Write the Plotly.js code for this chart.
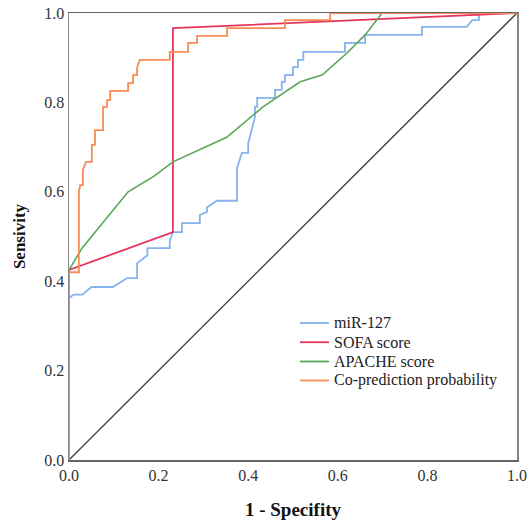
<!DOCTYPE html>
<html>
<head>
<meta charset="utf-8">
<script src="https://cdn.plot.ly/plotly-3.0.1.min.js"></script>
<style>html,body{margin:0;padding:0;background:#fff}#chart{width:528px;height:520px}</style>
</head>
<body>
<div id="chart"></div>
<script>
var seriesNames = ["miR-127", "SOFA score", "APACHE score", "Co-prediction probability"];

var mirX = [0, 0, 0.01, 0.03, 0.05, 0.098, 0.13, 0.152, 0.152, 0.175, 0.175, 0.225, 0.225, 0.232, 0.252, 0.252, 0.292, 0.292, 0.308, 0.308, 0.33, 0.375, 0.375, 0.386, 0.40, 0.40, 0.415, 0.415, 0.42, 0.42, 0.46, 0.46, 0.475, 0.475, 0.482, 0.482, 0.50, 0.50, 0.511, 0.511, 0.523, 0.523, 0.616, 0.616, 0.661, 0.661, 0.788, 0.788, 0.888, 0.90, 0.915, 0.915, 1];
var mirY = [0, 0.362, 0.37, 0.37, 0.387, 0.387, 0.407, 0.407, 0.44, 0.458, 0.474, 0.474, 0.49, 0.51, 0.51, 0.53, 0.53, 0.548, 0.555, 0.565, 0.58, 0.58, 0.653, 0.687, 0.687, 0.709, 0.767, 0.79, 0.79, 0.81, 0.81, 0.828, 0.828, 0.846, 0.846, 0.861, 0.861, 0.879, 0.879, 0.895, 0.895, 0.913, 0.913, 0.933, 0.933, 0.951, 0.951, 0.969, 0.969, 0.984, 0.984, 1.0, 1.0];

var sofaX = [0, 0, 0.232, 0.232, 1];
var sofaY = [0, 0.425, 0.51, 0.966, 1];

var apacheX = [0, 0, 0.029, 0.132, 0.19, 0.232, 0.352, 0.404, 0.433, 0.516, 0.565, 0.62, 0.661, 0.699, 1];
var apacheY = [0, 0.425, 0.474, 0.60, 0.635, 0.667, 0.722, 0.765, 0.79, 0.846, 0.861, 0.91, 0.951, 1.0, 1.0];

var coX = [0, 0, 0.022, 0.022, 0.025, 0.031, 0.031, 0.038, 0.051, 0.051, 0.058, 0.058, 0.076, 0.076, 0.085, 0.085, 0.092, 0.092, 0.132, 0.132, 0.143, 0.143, 0.152, 0.152, 0.158, 0.225, 0.225, 0.266, 0.266, 0.286, 0.286, 0.353, 0.353, 0.482, 0.482, 0.583, 0.583, 1];
var coY = [0, 0.42, 0.42, 0.60, 0.615, 0.615, 0.649, 0.667, 0.667, 0.705, 0.705, 0.738, 0.738, 0.79, 0.79, 0.805, 0.805, 0.826, 0.826, 0.843, 0.843, 0.861, 0.861, 0.879, 0.895, 0.895, 0.913, 0.913, 0.933, 0.933, 0.949, 0.949, 0.966, 0.966, 0.984, 0.984, 1.0, 1.0];

var refX = [0, 1];
var refY = [0, 1];

var tickVals = [0, 0.2, 0.4, 0.6, 0.8, 1.0];
var tickText = ["0.0", "0.2", "0.4", "0.6", "0.8", "1.0"];

var colors = ["#84b3f0", "#e8355d", "#5aa657", "#f78b55"];

var traces = [
  {x: refX, y: refY, mode: "lines", line: {color: "#3a3a3a", width: 1.3}, showlegend: false, hoverinfo: "skip"},
  {x: mirX, y: mirY, name: seriesNames[0], mode: "lines", line: {color: colors[0], width: 1.8}},
  {x: sofaX, y: sofaY, name: seriesNames[1], mode: "lines", line: {color: colors[1], width: 1.8}},
  {x: apacheX, y: apacheY, name: seriesNames[2], mode: "lines", line: {color: colors[2], width: 1.6}},
  {x: coX, y: coY, name: seriesNames[3], mode: "lines", line: {color: colors[3], width: 1.8}}
];

var serif = "Liberation Serif";

// legend drawn as paper-positioned samples and labels (layout, not data)
var legX0 = 0.5156, legX1 = 0.5804, legTextX = 0.586;
var legY = [0.3065, 0.2635, 0.2204, 0.1779];
var shapes = [], annotations = [];
for (var i = 0; i < seriesNames.length; i++) {
  shapes.push({type: "line", xref: "paper", yref: "paper", x0: legX0, x1: legX1, y0: legY[i], y1: legY[i],
               line: {color: colors[i], width: 1.8}});
  annotations.push({xref: "paper", yref: "paper", x: legTextX, y: legY[i], xanchor: "left", yanchor: "middle",
                    text: seriesNames[i], showarrow: false, font: {family: serif, size: 16, color: "#222"}});
}

var layout = {
  width: 528, height: 520,
  margin: {l: 69, r: 11, t: 13, b: 60},
  paper_bgcolor: "#fff", plot_bgcolor: "#fff",
  font: {family: serif, size: 16, color: "#222"},
  showlegend: false,
  shapes: shapes,
  annotations: annotations,
  xaxis: {range: [0, 1], tickvals: tickVals, ticktext: tickText, showgrid: false, zeroline: false,
          showline: true, linecolor: "#666", linewidth: 1.5, mirror: true, ticks: "",
          tickfont: {family: serif, size: 16, color: "#333"},
          title: {text: "<b>1 - Specifity</b>", font: {family: serif, size: 19, color: "#111"}, standoff: 24}},
  yaxis: {range: [0, 1], tickvals: tickVals, ticktext: tickText, showgrid: false, zeroline: false,
          showline: true, linecolor: "#888", linewidth: 1.5, mirror: true, ticks: "",
          tickfont: {family: serif, size: 16, color: "#333"},
          title: {text: "<b>Sensivity</b>", font: {family: serif, size: 17, color: "#111"}, standoff: 14}}
};

Plotly.newPlot("chart", traces, layout, {displayModeBar: false, staticPlot: true});
</script>
</body>
</html>
